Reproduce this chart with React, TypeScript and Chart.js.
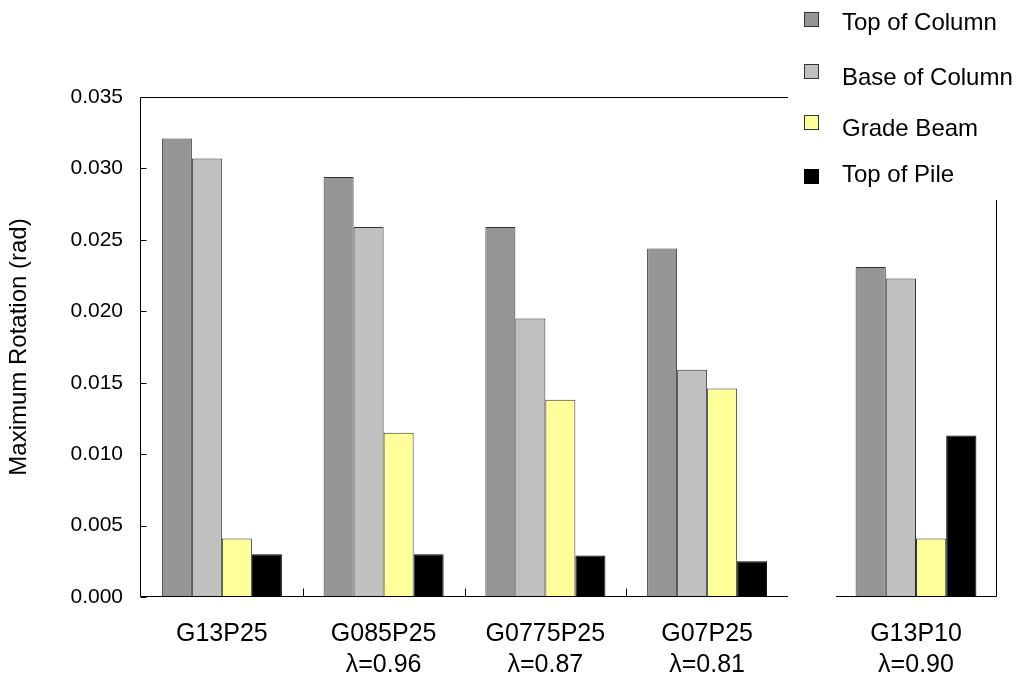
import React, { useEffect, useRef } from "react";
import { Chart, registerables } from "chart.js";

Chart.register(...registerables);

// ---- data ----
const seriesNames = ["Top of Column", "Base of Column", "Grade Beam", "Top of Pile"];
const seriesColors = ["#969696", "#C0C0C0", "#FFFF99", "#000000"];

const mainCategories = [["G13P25", ""], ["G085P25", "λ=0.96"], ["G0775P25", "λ=0.87"], ["G07P25", "λ=0.81"]];
const mainTopOfColumn = [0.0321, 0.0294, 0.0259, 0.0244];
const mainBaseOfColumn = [0.0307, 0.0259, 0.0195, 0.0159];
const mainGradeBeam = [0.0041, 0.0115, 0.0138, 0.0146];
const mainTopOfPile = [0.0030, 0.0030, 0.0029, 0.0025];

const sideCategories = [["G13P10", "λ=0.90"]];
const sideTopOfColumn = [0.0231];
const sideBaseOfColumn = [0.0223];
const sideGradeBeam = [0.0041];
const sideTopOfPile = [0.0113];

const yMin = 0;
const yMax = 0.035;
const yStep = 0.005;
const yTitle = "Maximum Rotation (rad)";

const FONT = "'Liberation Sans', Arial, Helvetica, sans-serif";

function makeDatasets(values: number[][]) {
  return values.map((v, i) => ({
    label: seriesNames[i],
    data: v,
    backgroundColor: seriesColors[i],
    borderColor: i === 3 ? "#000000" : "#333333",
    borderWidth: 1,
  }));
}

const frameMain = {
  id: "frameMain",
  afterDatasetsDraw(chart: any) {
    const { ctx, chartArea } = chart;
    const { left, right, top, bottom } = chartArea;
    const ys = chart.scales.y;
    const xs = chart.scales.x;
    ctx.save();
    ctx.strokeStyle = "#000";
    ctx.lineWidth = 1;
    ctx.beginPath();
    const L = Math.round(left) - 0.5;
    const B = Math.round(bottom) - 0.5;
    const T = Math.round(top) + 0.5;
    ctx.moveTo(L, T);
    ctx.lineTo(Math.round(right), T);
    ctx.moveTo(L, T);
    ctx.lineTo(L, B);
    ctx.lineTo(Math.round(right), B);
    for (let v = yMin; v <= yMax + 1e-9; v += yStep) {
      const py = Math.round(ys.getPixelForValue(v)) + 0.5;
      ctx.moveTo(L, py);
      ctx.lineTo(L + 6, py);
    }
    const n = xs.ticks.length;
    for (let i = 1; i < n; i++) {
      const px = Math.round((xs.getPixelForValue(i - 1) + xs.getPixelForValue(i)) / 2) + 0.5;
      ctx.moveTo(px, B);
      ctx.lineTo(px, B - 8);
    }
    ctx.stroke();
    ctx.restore();
  },
};

const LEGEND_BOTTOM = 200;

const frameSide = {
  id: "frameSide",
  afterDatasetsDraw(chart: any) {
    const { ctx, chartArea } = chart;
    const { left, right, bottom } = chartArea;
    ctx.save();
    ctx.strokeStyle = "#000";
    ctx.lineWidth = 1;
    ctx.beginPath();
    const B = Math.round(bottom) - 0.5;
    const R = Math.round(right) + 0.5;
    ctx.moveTo(Math.round(left), B);
    ctx.lineTo(R, B);
    ctx.lineTo(R, LEGEND_BOTTOM);
    ctx.stroke();
    ctx.restore();
  },
};

function baseOptions(catPct: number, padding: any, showY: boolean) {
  const y: any = {
    display: showY,
    min: yMin,
    max: yMax,
    grid: { display: false, drawTicks: false },
    border: { display: false },
    ticks: {
      stepSize: yStep,
      color: "#000",
      padding: 18,
      font: { family: FONT, size: 21 },
      callback: (v: any) => Number(v).toFixed(3),
    },
    title: {
      display: showY,
      text: yTitle,
      color: "#000",
      padding: { top: 5, bottom: 0 },
      font: { family: FONT, size: 24 },
    },
  };
  if (showY) {
    y.afterFit = (scale: any) => {
      scale.width = 141;
    };
  }
  return {
    responsive: false,
    animation: false as const,
    layout: { padding },
    plugins: { legend: { display: false }, tooltip: { enabled: false } },
    datasets: { bar: { categoryPercentage: catPct, barPercentage: 1 } },
    scales: {
      x: {
        type: "category" as const,
        grid: { display: false, drawTicks: false },
        border: { display: false },
        ticks: {
          color: "#000",
          padding: 21,
          maxRotation: 0,
          autoSkip: false,
          font: { family: FONT, size: 25, lineHeight: 1.26 },
        },
        afterFit(scale: any) {
          scale.height = 85;
        },
      },
      y,
    },
  };
}

export default function App() {
  const mainRef = useRef<HTMLCanvasElement | null>(null);
  const sideRef = useRef<HTMLCanvasElement | null>(null);

  useEffect(() => {
    const a = new Chart(mainRef.current as HTMLCanvasElement, {
      type: "bar",
      data: {
        labels: mainCategories as any,
        datasets: makeDatasets([mainTopOfColumn, mainBaseOfColumn, mainGradeBeam, mainTopOfPile]),
      },
      options: baseOptions(0.742, { top: 97, right: 12, left: 0, bottom: 0 }, true) as any,
      plugins: [frameMain],
    });
    const b = new Chart(sideRef.current as HTMLCanvasElement, {
      type: "bar",
      data: {
        labels: sideCategories as any,
        datasets: makeDatasets([sideTopOfColumn, sideBaseOfColumn, sideGradeBeam, sideTopOfPile]),
      },
      options: baseOptions(0.755, { top: 97, right: 20, left: 36, bottom: 0 }, false) as any,
      plugins: [frameSide],
    });
    return () => {
      a.destroy();
      b.destroy();
    };
  }, []);

  const squareTops = [12, 64, 115, 169];
  const textCenters = [22, 77, 128, 174];

  return (
    <div
      style={{
        position: "absolute",
        left: 0,
        top: 0,
        width: 1016,
        height: 682,
        background: "#fff",
        overflow: "hidden",
      }}
    >
      <canvas
        ref={mainRef}
        width={800}
        height={682}
        style={{ position: "absolute", left: 0, top: 0, display: "block" }}
      />
      <canvas
        ref={sideRef}
        width={216}
        height={682}
        style={{ position: "absolute", left: 800, top: 0, display: "block" }}
      />
      {seriesNames.map((name, i) => (
        <React.Fragment key={name}>
          <div
            style={{
              position: "absolute",
              left: 804,
              top: squareTops[i],
              width: 13,
              height: 13,
              background: seriesColors[i],
              border: "1px solid " + (i === 3 ? "#000" : "#333"),
            }}
          />
          <div
            style={{
              position: "absolute",
              left: 842,
              top: textCenters[i] - 14,
              height: 28,
              lineHeight: "28px",
              fontFamily: FONT,
              fontSize: 24,
              color: "#000",
              whiteSpace: "nowrap",
            }}
          >
            {name}
          </div>
        </React.Fragment>
      ))}
    </div>
  );
}
